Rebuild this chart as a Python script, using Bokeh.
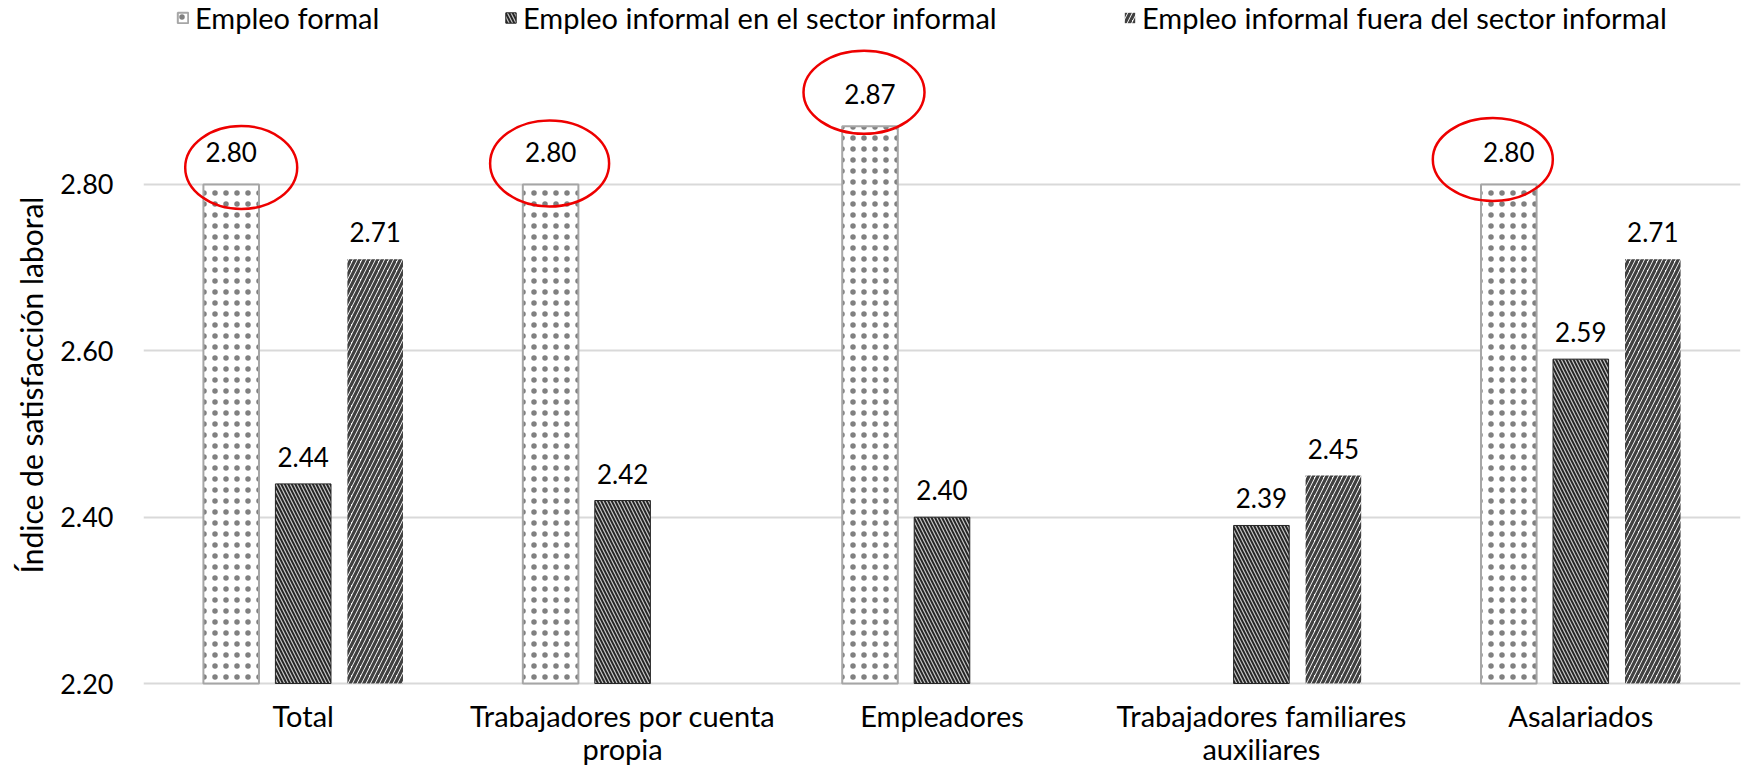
from bokeh.plotting import figure
from bokeh.models import (ColumnDataSource, FactorRange, Range1d, FixedTicker,
                          NumeralTickFormatter, Legend, LegendItem)
from bokeh.transform import dodge
from bokeh.core.properties import value
from bokeh.embed import file_html
from bokeh.resources import INLINE

# ---- data ----
categories = ["Total", "Trabajadores por cuenta propia", "Empleadores",
              "Trabajadores familiares auxiliares", "Asalariados"]
category_labels = ["Total", "Trabajadores por cuenta\npropia", "Empleadores",
                   "Trabajadores familiares\nauxiliares", "Asalariados"]
series_names = ["Empleo formal", "Empleo informal en el sector informal",
                "Empleo informal fuera del sector informal"]
empleo_formal = [2.80, 2.80, 2.87, None, 2.80]
informal_en_sector = [2.44, 2.42, 2.40, 2.39, 2.59]
informal_fuera_sector = [2.71, None, None, 2.45, 2.71]
y_ticks = [2.20, 2.40, 2.60, 2.80]
axis_min = 2.20

FONT = "Lato"

# ---- layout (pixels) ----
W, H = 1743, 769
LEFT, RIGHT = 143, 3
base_px = 683          # figure-y of the 2.20 baseline
px_per_unit = 831.7
y_start = axis_min - (H - base_px) / px_per_unit
y_end = axis_min + base_px / px_per_unit

p = figure(width=W, height=H, x_range=FactorRange(*categories),
           y_range=Range1d(y_start, y_end), output_backend="svg",
           toolbar_location=None, x_axis_location=None,
           min_border_left=LEFT, min_border_right=RIGHT,
           min_border_top=0, min_border_bottom=0)
p.outline_line_color = None
p.background_fill_color = "white"
p.xgrid.grid_line_color = None
p.ygrid.grid_line_color = "#d9d9d9"
p.ygrid.grid_line_width = 2
p.ygrid.ticker = FixedTicker(ticks=y_ticks)

styles = [
    dict(fill_color="white", line_color="#a6a6a6", line_width=2,
         hatch_pattern="dot", hatch_color="#808080", hatch_scale=11, hatch_weight=1.8),
    dict(fill_color="#262626", line_color="#262626", line_width=1,
         hatch_pattern="left_diagonal_line", hatch_color="#c8c8c8", hatch_scale=7, hatch_weight=1.2),
    dict(fill_color="white", line_color=None, line_width=0,
         hatch_pattern="right_diagonal_line", hatch_color="#404040", hatch_scale=9, hatch_weight=3.2),
]
offsets = [-0.2254, 0.0, 0.2254]
bar_w = 0.174
label_offsets = [-32, -27, -27]
series_vals = [empleo_formal, informal_en_sector, informal_fuera_sector]

renderers = []
for vals, off, st, lo in zip(series_vals, offsets, styles, label_offsets):
    cs = [c for c, v in zip(categories, vals) if v is not None]
    vs = [v for v in vals if v is not None]
    src = ColumnDataSource(dict(cat=cs, val=vs, lab=[f"{v:.2f}" for v in vs]))
    r = p.vbar(x=dodge("cat", off, range=p.x_range), top="val", bottom=axis_min,
               width=bar_w, source=src, **st)
    renderers.append(r)
    p.text(x=dodge("cat", off, range=p.x_range), y="val", text="lab", source=src,
           text_align="center", text_baseline="middle", y_offset=lo,
           text_font=value(FONT), text_font_size="26px", text_color="black")

# red ellipses drawn around the formal-employment labels
ell_dx = [10, -1, -6, -16]     # hand-drawn placement, px
ell_dy = [17, 21, 34, 25]
ell_w = [112, 119, 121, 120]
ell_h = [83, 86, 83, 83]
cat_w = (W - LEFT - RIGHT) / len(categories)
fc = [c for c, v in zip(categories, empleo_formal) if v is not None]
fv = [v for v in empleo_formal if v is not None]
for c, v, dx, dy, ew, eh in zip(fc, fv, ell_dx, ell_dy, ell_w, ell_h):
    esrc = ColumnDataSource(dict(cat=[c], yc=[v + dy / px_per_unit]))
    p.ellipse(x=dodge("cat", offsets[0] + dx / cat_w, range=p.x_range), y="yc",
              width=ew, height=eh, width_units="screen", height_units="screen",
              source=esrc, fill_color=None, line_color="#ee0000", line_width=2.5)

# category labels (multi-line) under the baseline
csrc = ColumnDataSource(dict(cat=categories, lab=category_labels,
                             y=[axis_min] * len(categories)))
p.text(x="cat", y="y", text="lab", source=csrc, text_align="center",
       text_baseline="top", y_offset=14, text_line_height=0.96,
       text_font=value(FONT), text_font_size="29px", text_color="black")

# y axis
p.yaxis.ticker = FixedTicker(ticks=y_ticks)
p.yaxis.formatter = NumeralTickFormatter(format="0.00")
p.yaxis.axis_line_color = None
p.yaxis.major_tick_line_color = None
p.yaxis.minor_tick_line_color = None
p.yaxis.major_label_text_font = FONT
p.yaxis.major_label_text_font_size = "27px"
p.yaxis.major_label_text_color = "black"
p.yaxis.major_label_standoff = 24
p.yaxis.axis_label = "Índice de satisfacción laboral"
p.yaxis.axis_label_text_font = FONT
p.yaxis.axis_label_text_font_size = "30px"
p.yaxis.axis_label_text_font_style = "normal"
p.yaxis.axis_label_text_color = "black"
p.yaxis.axis_label_standoff = 8

# legends (three separate entries, placed across the top)
for name, r, xpos in zip(series_names, renderers, [33, 361, 980]):
    lg = Legend(items=[LegendItem(label=name, renderers=[r])],
                location=(xpos, H - 35), orientation="horizontal",
                glyph_width=13, glyph_height=13, label_standoff=6,
                padding=0, margin=0, border_line_color=None,
                background_fill_alpha=0, label_text_font=FONT,
                label_text_font_size="29px", label_text_color="black")
    p.add_layout(lg, "center")

open("out.html", "w").write(file_html(p, INLINE))
